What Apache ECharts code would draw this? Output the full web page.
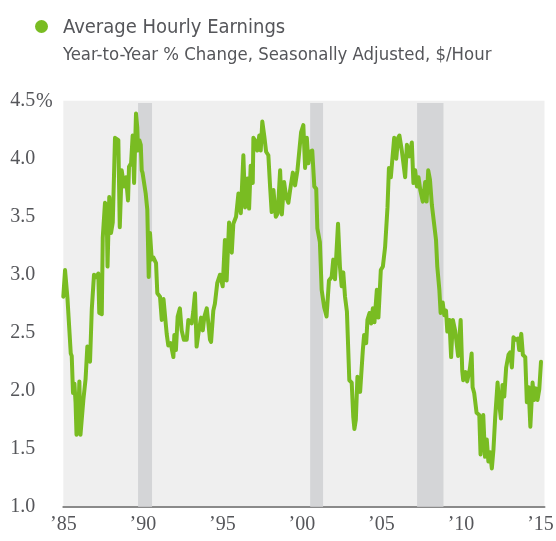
<!DOCTYPE html>
<html>
<head>
<meta charset="utf-8">
<title>Average Hourly Earnings</title>
<script src="https://cdn.jsdelivr.net/npm/echarts@6/dist/echarts.min.js"></script>
<style>
  html, body { margin: 0; padding: 0; background: #fff; }
  #earningsChart { width: 556px; height: 541px; }
</style>
</head>
<body>
<div id="earningsChart"></div>
<script>
// monthly readings, x in decimal years
var years = [
  1985.00, 1985.11, 1985.26, 1985.47, 1985.53, 1985.61, 1985.70, 1985.77, 1985.83, 1985.91,
  1986.01, 1986.08, 1986.18, 1986.26, 1986.40, 1986.51, 1986.60, 1986.68, 1986.79, 1986.93,
  1987.06, 1987.20, 1987.26, 1987.42, 1987.48, 1987.62, 1987.72, 1987.78, 1987.89, 1988.00,
  1988.11, 1988.25, 1988.46, 1988.55, 1988.67, 1988.82, 1988.94, 1989.07, 1989.13, 1989.26,
  1989.36, 1989.45, 1989.57, 1989.65, 1989.70, 1989.78, 1989.87, 1989.93, 1989.98, 1990.18,
  1990.28, 1990.37, 1990.45, 1990.56, 1990.66, 1990.83, 1990.91, 1991.08, 1991.19, 1991.30,
  1991.39, 1991.50, 1991.60, 1991.75, 1991.92, 1991.98, 1992.08, 1992.19, 1992.33, 1992.44,
  1992.58, 1992.76, 1992.86, 1993.07, 1993.17, 1993.28, 1993.38, 1993.49, 1993.66, 1993.77,
  1993.87, 1994.02, 1994.12, 1994.22, 1994.29, 1994.43, 1994.53, 1994.68, 1994.85, 1995.02,
  1995.16, 1995.27, 1995.42, 1995.59, 1995.69, 1995.86, 1996.01, 1996.16, 1996.32, 1996.43,
  1996.57, 1996.68, 1996.78, 1996.91, 1996.95, 1997.09, 1997.19, 1997.32, 1997.41, 1997.51,
  1997.64, 1997.75, 1997.89, 1998.00, 1998.10, 1998.21, 1998.36, 1998.48, 1998.63, 1998.74,
  1998.88, 1999.01, 1999.15, 1999.26, 1999.43, 1999.57, 1999.72, 1999.84, 1999.95, 2000.09,
  2000.20, 2000.31, 2000.41, 2000.51, 2000.65, 2000.78, 2000.90, 2000.97, 2001.13, 2001.24,
  2001.40, 2001.55, 2001.70, 2001.87, 2001.97, 2002.08, 2002.27, 2002.39, 2002.50, 2002.60,
  2002.71, 2002.83, 2002.98, 2003.13, 2003.23, 2003.30, 2003.39, 2003.49, 2003.66, 2003.83,
  2003.91, 2004.04, 2004.12, 2004.25, 2004.35, 2004.46, 2004.56, 2004.71, 2004.81, 2004.96,
  2005.09, 2005.23, 2005.38, 2005.47, 2005.59, 2005.67, 2005.80, 2005.93, 2006.05, 2006.13,
  2006.28, 2006.38, 2006.49, 2006.60, 2006.70, 2006.76, 2006.91, 2007.01, 2007.12, 2007.23,
  2007.33, 2007.44, 2007.60, 2007.75, 2007.84, 2007.94, 2008.05, 2008.17, 2008.30, 2008.43,
  2008.51, 2008.64, 2008.72, 2008.85, 2008.95, 2009.06, 2009.14, 2009.27, 2009.38, 2009.49,
  2009.63, 2009.82, 2009.98, 2010.08, 2010.14, 2010.29, 2010.39, 2010.56, 2010.67, 2010.73,
  2010.83, 2010.98, 2011.15, 2011.23, 2011.32, 2011.40, 2011.51, 2011.62, 2011.72, 2011.83,
  2011.94, 2012.04, 2012.15, 2012.30, 2012.40, 2012.51, 2012.61, 2012.72, 2012.84, 2012.99,
  2013.09, 2013.20, 2013.30, 2013.45, 2013.58, 2013.66, 2013.79, 2013.89, 2014.04, 2014.14,
  2014.25, 2014.36, 2014.50, 2014.60, 2014.71, 2014.81, 2014.92, 2015.03
];
var earnings = [
  2.81, 3.04, 2.80, 2.32, 2.30, 1.98, 2.06, 1.90, 1.62, 1.64,
  2.08, 1.62, 1.62, 1.92, 2.10, 2.38, 2.36, 2.25, 2.70, 3.00,
  2.98, 3.01, 2.67, 2.66, 3.32, 3.62, 3.60, 3.07, 3.67, 3.36,
  3.45, 4.18, 4.16, 3.41, 3.90, 3.76, 3.84, 3.64, 3.93, 3.96,
  4.20, 3.79, 4.39, 4.27, 4.07, 4.16, 4.12, 3.90, 3.88, 3.70,
  3.56, 2.98, 3.36, 3.13, 3.15, 3.10, 2.84, 2.81, 2.61, 2.79,
  2.80, 2.49, 2.39, 2.41, 2.29, 2.48, 2.35, 2.64, 2.71, 2.52,
  2.44, 2.44, 2.61, 2.58, 2.68, 2.84, 2.38, 2.49, 2.63, 2.52,
  2.64, 2.71, 2.58, 2.44, 2.42, 2.69, 2.75, 2.93, 3.00, 2.90,
  3.30, 2.95, 3.45, 3.19, 3.44, 3.50, 3.70, 3.53, 4.03, 3.58,
  3.83, 3.57, 3.94, 3.79, 4.18, 4.15, 4.07, 4.20, 4.07, 4.32,
  4.19, 4.06, 4.03, 3.76, 3.54, 3.73, 3.50, 3.53, 3.90, 3.52,
  3.80, 3.67, 3.62, 3.73, 3.88, 3.77, 3.90, 3.90, 4.23, 4.29,
  3.92, 4.18, 3.96, 4.06, 4.07, 3.76, 3.74, 3.40, 3.28, 2.87,
  2.72, 2.64, 2.95, 2.98, 3.13, 2.96, 3.44, 3.07, 2.90, 3.02,
  2.81, 2.68, 2.09, 2.07, 1.77, 1.67, 1.75, 2.12, 1.99, 2.35,
  2.48, 2.41, 2.61, 2.67, 2.58, 2.71, 2.59, 2.87, 2.63, 3.04,
  3.07, 3.24, 3.58, 3.92, 3.84, 3.97, 4.18, 4.00, 4.18, 4.20,
  4.07, 4.08, 3.84, 4.12, 4.06, 4.02, 4.14, 3.79, 3.90, 3.76,
  3.84, 3.73, 3.63, 3.80, 3.63, 3.90, 3.82, 3.60, 3.45, 3.30,
  3.07, 2.87, 2.67, 2.76, 2.65, 2.69, 2.51, 2.61, 2.29, 2.61,
  2.52, 2.30, 2.61, 2.17, 2.09, 2.16, 2.08, 2.19, 2.32, 2.03,
  1.98, 1.81, 1.79, 1.45, 1.60, 1.79, 1.43, 1.58, 1.39, 1.47,
  1.33, 1.49, 1.77, 2.07, 1.89, 1.76, 2.05, 1.95, 2.20, 2.31,
  2.33, 2.20, 2.46, 2.44, 2.45, 2.35, 2.49, 2.31, 2.29, 1.90,
  2.03, 1.69, 2.07, 1.92, 2.02, 1.92, 2.01, 2.25
];

// recession shading (start / end, decimal years)
var recessionStart = [1989.70, 2000.52, 2007.24];
var recessionEnd   = [1990.58, 2001.33, 2008.90];

var xTickValues = [1985, 1990, 1995, 2000, 2005, 2010, 2015];
var xTickLabels = ['\u201985', '\u201990', '\u201995', '\u201900', '\u201905', '\u201910', '\u201915'];
var yTickValues = [1.0, 1.5, 2.0, 2.5, 3.0, 3.5, 4.0, 4.5];
var yTickLabels = ['1.0', '1.5', '2.0', '2.5', '3.0', '3.5', '4.0', '4.5'];

var titleFont = "'Liberation Sans Narrow', 'DejaVu Sans Condensed', 'Roboto Condensed', 'Roboto', sans-serif";
var tickFont = "'Liberation Serif', 'DejaVu Serif', serif";

var lineData = years.map(function (y, i) { return [y, earnings[i]]; });
var bands = recessionStart.map(function (s, i) {
  return [{ xAxis: s, yAxis: 1.0 }, { xAxis: recessionEnd[i], yAxis: 4.48 }];
});

var chart = echarts.init(document.getElementById('earningsChart'), null, { renderer: 'canvas' });
var option = {
  animation: false,
  backgroundColor: '#ffffff',
  title: {
    left: 63,
    top: 18,
    padding: 0,
    itemGap: 8,
    text: 'Average Hourly Earnings',
    subtext: 'Year-to-Year % Change, Seasonally Adjusted, $/Hour',
    textStyle: { fontFamily: titleFont, fontSize: 20, fontWeight: 'normal', color: '#55565a' },
    subtextStyle: { fontFamily: titleFont, fontSize: 18.4, color: '#55565a' }
  },
  graphic: [
    { type: 'circle', left: 35, top: 20, shape: { r: 6.5 }, style: { fill: '#79bc22' } },
    { type: 'text', left: 36, top: 92, style: { text: '%', font: '20px ' + tickFont, fill: '#55565a' } }
  ],
  grid: {
    show: true,
    left: 63.3,
    right: 11.5,
    top: 100.7,
    bottom: 34.3,
    backgroundColor: '#efefef',
    borderWidth: 0,
    outerBoundsMode: 'none'
  },
  xAxis: {
    type: 'value',
    min: 1985,
    max: 2015.25,
    interval: 5,
    axisLine: { show: true, lineStyle: { color: '#8a8a8a', width: 2 } },
    axisTick: { show: false },
    splitLine: { show: false },
    axisLabel: {
      margin: 8,
      fontFamily: tickFont,
      fontSize: 20,
      color: '#55565a',
      showMaxLabel: true,
      formatter: function (v) {
        var k = xTickValues.indexOf(v);
        return k < 0 ? '' : xTickLabels[k];
      }
    }
  },
  yAxis: {
    type: 'value',
    min: 1.0,
    max: 4.5,
    interval: 0.5,
    axisLine: { show: false },
    axisTick: { show: false },
    splitLine: { show: false },
    axisLabel: {
      margin: 28,
      fontFamily: tickFont,
      fontSize: 20,
      color: '#55565a',
      formatter: function (v) {
        for (var i = 0; i < yTickValues.length; i++) {
          if (Math.abs(yTickValues[i] - v) < 1e-6) return yTickLabels[i];
        }
        return '';
      }
    }
  },
  series: [
    {
      type: 'line',
      z: 1,
      data: [],
      silent: true,
      markArea: {
        silent: true,
        itemStyle: { color: '#d4d5d7' },
        data: bands
      }
    },
    {
      name: 'Average Hourly Earnings',
      type: 'line',
      z: 3,
      data: lineData,
      showSymbol: false,
      smooth: false,
      lineStyle: { color: '#79bc22', width: 4, cap: 'round', join: 'round' }
    }
  ]
};
chart.setOption(option);
</script>
</body>
</html>
